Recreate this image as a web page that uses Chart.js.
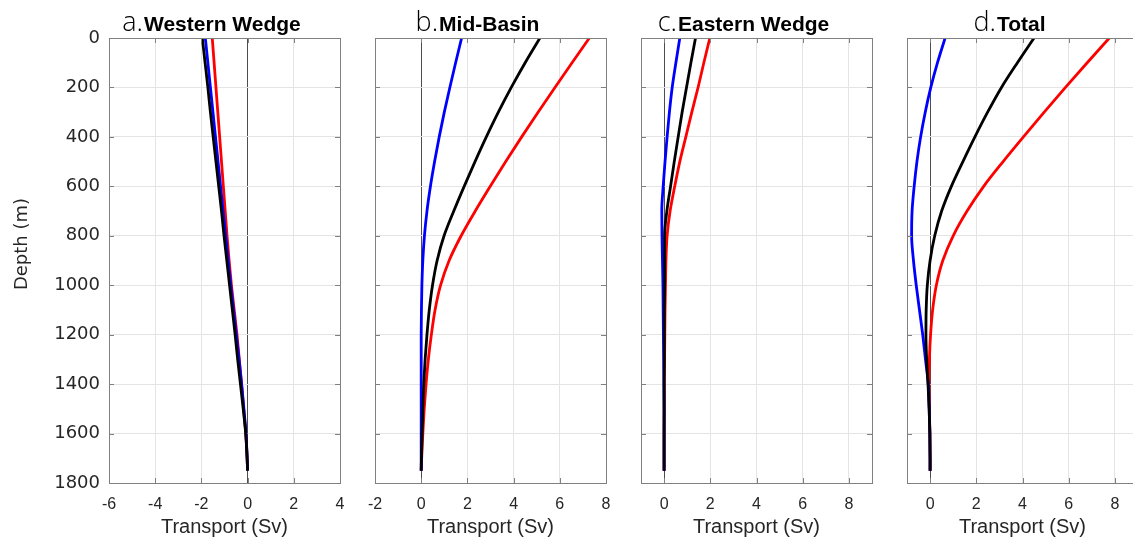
<!DOCTYPE html>
<html>
<head>
<meta charset="utf-8">
<title>Transport profiles</title>
<script src="https://cdn.jsdelivr.net/npm/chart.js@4.4.1/dist/chart.umd.min.js"></script>
<style>
  html, body { margin: 0; padding: 0; background: #fff; overflow: hidden; }
  #wrap { position: relative; width: 1133px; height: 539px; overflow: hidden; }
  #wrap canvas { position: absolute; top: 0; }
</style>
</head>
<body>
<div id="wrap"></div>
<script>
// depth levels (m) shared by every profile
const depth = [0, 100, 200, 300, 400, 500, 600, 700, 800, 900, 1000, 1100, 1200, 1300, 1400, 1500, 1600, 1700, 1750];

// transport (Sv) per depth level
const westBlack = [-1.96, -1.84, -1.72, -1.61, -1.49, -1.37, -1.25, -1.13, -1.02, -0.90, -0.78, -0.66, -0.54, -0.43, -0.31, -0.19, -0.08, -0.02, 0];
const westBlue  = [-1.83, -1.72, -1.61, -1.50, -1.39, -1.28, -1.17, -1.06, -0.95, -0.84, -0.73, -0.61, -0.49, -0.37, -0.26, -0.16, -0.07, -0.02, 0];
const westRed   = [-1.53, -1.45, -1.37, -1.29, -1.21, -1.13, -1.05, -0.97, -0.89, -0.80, -0.70, -0.58, -0.46, -0.36, -0.26, -0.17, -0.08, -0.02, 0];

const midBlack = [5.14, 4.50, 3.90, 3.34, 2.82, 2.33, 1.86, 1.41, 0.99, 0.69, 0.49, 0.35, 0.25, 0.17, 0.11, 0.07, 0.04, 0.01, 0];
const midBlue  = [1.75, 1.49, 1.24, 1.00, 0.78, 0.58, 0.40, 0.25, 0.14, 0.07, 0.03, 0.01, 0, 0, 0, 0, 0, 0, 0];
const midRed   = [7.28, 6.53, 5.79, 5.06, 4.35, 3.66, 2.99, 2.34, 1.73, 1.21, 0.84, 0.60, 0.44, 0.31, 0.21, 0.13, 0.07, 0.02, 0];

const eastBlack = [1.36, 1.16, 0.97, 0.78, 0.61, 0.44, 0.28, 0.12, 0.02, 0.02, 0.02, 0.01, 0.01, 0.01, 0, 0, 0, 0, 0];
const eastBlue  = [0.68, 0.51, 0.35, 0.23, 0.13, 0.04, -0.04, -0.10, -0.09, -0.07, -0.05, -0.04, -0.03, -0.02, -0.01, 0, 0, 0, 0];
const eastRed   = [1.98, 1.72, 1.47, 1.20, 0.94, 0.68, 0.46, 0.26, 0.13, 0.08, 0.06, 0.04, 0.03, 0.02, 0.01, 0.01, 0, 0, 0];

const totalBlack = [4.50, 3.78, 3.09, 2.49, 1.94, 1.42, 0.92, 0.50, 0.20, 0.00, -0.12, -0.17, -0.18, -0.15, -0.09, -0.04, -0.01, 0, 0];
const totalBlue  = [0.65, 0.32, 0.03, -0.21, -0.41, -0.57, -0.69, -0.78, -0.80, -0.72, -0.60, -0.46, -0.32, -0.20, -0.08, -0.04, -0.01, 0, 0];
const totalRed   = [7.76, 6.80, 5.86, 4.94, 4.04, 3.16, 2.32, 1.60, 1.00, 0.55, 0.27, 0.11, 0.02, -0.03, -0.05, -0.03, -0.01, 0, 0];

// tick values
const depthTicks = [0, 200, 400, 600, 800, 1000, 1200, 1400, 1600, 1800];
const westTicks = [-6, -4, -2, 0, 2, 4];
const midTicks = [-2, 0, 2, 4, 6, 8];
const eastTicks = [0, 2, 4, 6, 8];
const totalTicks = [0, 2, 4, 6, 8];

const panels = [
  { letter: "a.", name: "Western Wedge", left: 109, min: -6, max: 4, ticks: westTicks, black: westBlack, blue: westBlue, red: westRed, yLabels: true },
  { letter: "b.", name: "Mid-Basin", left: 375, min: -2, max: 8, ticks: midTicks, black: midBlack, blue: midBlue, red: midRed },
  { letter: "c.", name: "Eastern Wedge", left: 641, min: -1, max: 9, ticks: eastTicks, black: eastBlack, blue: eastBlue, red: eastRed },
  { letter: "d.", name: "Total", left: 907, min: -1, max: 9, ticks: totalTicks, black: totalBlack, blue: totalBlue, red: totalRed },
];

const PLOT_W = 231;
const HEIGHT = 539;
const GRID = "#e4e4e4";
const ZERO = "#4d4d4d";
const BOX = "#808080";
const TEXT = "#262626";

// axes box with inward tick marks, the two-font panel title and the depth label
const frame = {
  id: "frame",
  afterDraw(chart, args, opts) {
    const { ctx, chartArea: a, scales: { x, y } } = chart;
    ctx.save();
    ctx.strokeStyle = BOX;
    ctx.lineWidth = 1;
    ctx.strokeRect(a.left + 0.5, a.top + 0.5, a.right - a.left, a.bottom - a.top);
    ctx.beginPath();
    x.ticks.forEach(t => {
      const px = Math.round(x.getPixelForValue(t.value)) + 0.5;
      ctx.moveTo(px, a.bottom); ctx.lineTo(px, a.bottom - 5);
      ctx.moveTo(px, a.top); ctx.lineTo(px, a.top + 5);
    });
    y.ticks.forEach(t => {
      const py = Math.round(y.getPixelForValue(t.value)) + 0.5;
      ctx.moveTo(a.left, py); ctx.lineTo(a.left + 5, py);
      ctx.moveTo(a.right, py); ctx.lineTo(a.right - 5, py);
    });
    ctx.stroke();

    const f1 = '300 27px "Open Sans", "Liberation Sans", sans-serif';
    const f2 = 'bold 21px "Liberation Sans", Arial, sans-serif';
    ctx.fillStyle = "#000";
    ctx.textBaseline = "alphabetic";
    ctx.textAlign = "left";
    ctx.font = f1;
    const w1 = ctx.measureText(opts.letter).width;
    ctx.font = f2;
    const w2 = ctx.measureText(opts.name).width;
    const gap = 1;
    const x0 = (a.left + a.right) / 2 - 13 - (w1 + gap + w2) / 2;
    ctx.font = f1;
    ctx.fillText(opts.letter, x0, 31);
    ctx.font = f2;
    ctx.fillText(opts.name, x0 + w1 + gap, 31);

    if (opts.depthLabel) {
      ctx.translate(22, 244);
      ctx.rotate(-Math.PI / 2);
      ctx.textAlign = "center";
      ctx.textBaseline = "middle";
      ctx.fillStyle = TEXT;
      ctx.font = '18px "DejaVu Sans", sans-serif';
      ctx.fillText(opts.depthLabel, 0, 0);
    }
    ctx.restore();
  }
};

const toPoints = values => values.map((v, i) => ({ x: v, y: depth[i] }));
const line = (values, color, order) => ({
  data: toPoints(values),
  borderColor: color,
  backgroundColor: color,
  borderWidth: 2.8,
  showLine: true,
  cubicInterpolationMode: "monotone",
  pointRadius: 0,
  order: order
});

const wrap = document.getElementById("wrap");

panels.forEach(p => {
  const axisW = p.yLabels ? 109 : 12;
  const canvas = document.createElement("canvas");
  canvas.width = axisW + PLOT_W + 10;
  canvas.height = HEIGHT;
  canvas.style.left = (p.left - axisW) + "px";
  wrap.appendChild(canvas);

  new Chart(canvas.getContext("2d"), {
    type: "scatter",
    data: {
      datasets: [
        line(p.black, "#000000", 0),
        line(p.blue, "#0000ff", 1),
        line(p.red, "#ff0000", 2),
      ],
    },
    options: {
      // depth runs down the page, so the curves are splined along y
      indexAxis: "y",
      responsive: false,
      animation: false,
      layout: { padding: { top: 38, right: 10, bottom: 0, left: 0 } },
      plugins: {
        legend: { display: false },
        tooltip: { enabled: false },
        frame: { letter: p.letter, name: p.name, depthLabel: p.yLabels ? "Depth (m)" : null },
      },
      scales: {
        x: {
          type: "linear",
          min: p.min,
          max: p.max,
          afterBuildTicks: s => { s.ticks = p.ticks.map(v => ({ value: v })); },
          afterFit: s => {
            s.height = HEIGHT - 483;
            s.paddingLeft = 0;
            s.paddingRight = 0;
          },
          border: { display: false },
          grid: {
            drawTicks: false,
            lineWidth: 1,
            color: c => (c.tick && c.tick.value === 0 ? ZERO : GRID),
          },
          ticks: {
            autoSkip: false,
            maxRotation: 0,
            padding: 12,
            color: TEXT,
            font: { family: '"Liberation Sans", Arial, sans-serif', size: 16 },
            callback: v => String(v),
          },
          title: {
            display: true,
            text: "Transport (Sv)",
            color: TEXT,
            font: { family: '"Liberation Sans", Arial, sans-serif', size: 20 },
            padding: { top: 0, bottom: 0 },
          },
        },
        y: {
          type: "linear",
          reverse: true,
          min: 0,
          max: 1800,
          afterBuildTicks: s => { s.ticks = depthTicks.map(v => ({ value: v })); },
          afterFit: s => {
            s.width = axisW;
            s.paddingTop = 0;
            s.paddingBottom = 0;
          },
          border: { display: false },
          grid: { drawTicks: false, lineWidth: 1, color: GRID },
          ticks: {
            display: !!p.yLabels,
            autoSkip: false,
            padding: 9,
            color: TEXT,
            font: { family: '"DejaVu Sans", sans-serif', size: 18 },
            callback: v => String(v),
          },
          title: { display: false },
        },
      },
    },
    plugins: [frame],
  });
});
</script>
</body>
</html>
